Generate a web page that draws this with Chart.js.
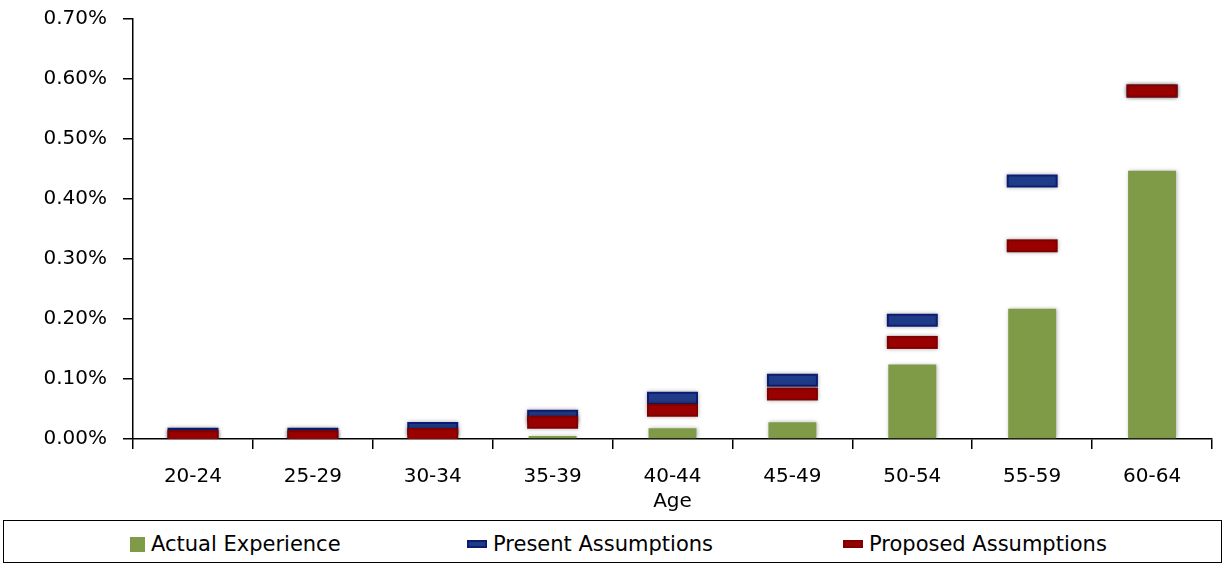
<!DOCTYPE html>
<html>
<head>
<meta charset="utf-8">
<script src="https://cdn.jsdelivr.net/npm/chart.js@4/dist/chart.umd.min.js"></script>
<style>
  body { margin: 0; background: #fff; font-family: "DejaVu Sans", sans-serif; }
  #wrap { position: relative; width: 1225px; height: 515px; }
  #legend {
    position: absolute; left: 3px; top: 520px; width: 1217px; height: 41px;
    border: 1.5px solid #000; box-sizing: content-box;
  }
  .item { position: absolute; top: 3px; height: 40px; display: flex; align-items: center;
          font-size: 21px; color: #000; white-space: nowrap; }
  .mark { display: inline-block; margin-right: 6px; }
</style>
</head>
<body>
<div id="wrap"><canvas id="chart" width="1225" height="515"></canvas></div>
<div id="legend"></div>

<script>
// ---------------- DATA ----------------
const ageGroups = ["20-24", "25-29", "30-34", "35-39", "40-44", "45-49", "50-54", "55-59", "60-64"];
const actualExperience = [0, 0, 0, 0.005, 0.018, 0.028, 0.124, 0.217, 0.447];
const presentAssumptions = [0.008, 0.008, 0.0175, 0.038, 0.068, 0.098, 0.198, 0.430, 0.580];
const proposedAssumptions = [0.004, 0.004, 0.0075, 0.028, 0.048, 0.075, 0.161, 0.322, 0.580];
const yTicks = [0, 0.1, 0.2, 0.3, 0.4, 0.5, 0.6, 0.7];

const GREEN = "#809B48";
const BLUE = { edge: "#0B1C72", fill: "#1F3A86" };
const RED = { edge: "#7E0000", fill: "#990000" };

// dash marker drawn to a small canvas, used as point style
function dashMarker(c, w, h, shadow) {
    const pad = shadow ? 5 : 0;
    const cv = document.createElement("canvas");
    cv.width = w + pad * 2;
    cv.height = h + pad * 2;
    const ctx = cv.getContext("2d");
    if (shadow) {
        ctx.shadowColor = "rgba(0,0,0,0.35)";
        ctx.shadowBlur = 4;
    }
    ctx.fillStyle = c.edge;
    ctx.fillRect(pad, pad, w, h);
    ctx.shadowBlur = 0;
    ctx.fillStyle = c.fill;
    ctx.fillRect(pad + 2, pad + 2, w - 4, h - 4);
    return cv;
}

// soft shadow under the green bars
const barShadow = {
    id: "barShadow",
    beforeDatasetDraw(chart, args) {
        if (args.index !== 0) return;
        const ctx = chart.ctx;
        ctx.save();
        ctx.shadowColor = "rgba(0,0,0,0.3)";
        ctx.shadowBlur = 4;
        ctx.shadowOffsetX = 1;
    },
    afterDatasetDraw(chart, args) {
        if (args.index !== 0) return;
        chart.ctx.restore();
    }
};

const FONT = { family: "DejaVu Sans", size: 20 };

new Chart(document.getElementById("chart"), {
    type: "bar",
    data: {
        labels: ageGroups,
        datasets: [
            {
                label: "Actual Experience",
                data: actualExperience,
                backgroundColor: GREEN,
                barPercentage: 0.4,
                categoryPercentage: 1,
                order: 2
            },
            {
                type: "line",
                label: "Present Assumptions",
                data: presentAssumptions,
                showLine: false,
                pointStyle: dashMarker(BLUE, 51, 13, true),
                order: 1
            },
            {
                type: "line",
                label: "Proposed Assumptions",
                data: proposedAssumptions,
                showLine: false,
                pointStyle: dashMarker(RED, 51, 13, true),
                order: 0
            }
        ]
    },
    options: {
        responsive: false,
        animation: false,
        layout: { padding: { top: 0, right: 13, left: 0, bottom: 0 } },
        plugins: {
            legend: { display: false },
            tooltip: { enabled: false }
        },
        scales: {
            x: {
                grid: { drawOnChartArea: false, color: "#000", lineWidth: 1.5, tickLength: 10, offset: true },
                border: { color: "#000", width: 1.5 },
                ticks: { color: "#000", font: FONT, padding: 16 },
                title: { display: true, text: "Age", color: "#000", font: FONT, padding: { top: 0, bottom: 1 } },
                afterFit(scale) { scale.height = 76; }
            },
            y: {
                min: 0,
                max: 0.7,
                afterBuildTicks(scale) { scale.ticks = yTicks.map(v => ({ value: v })); },
                grid: { drawOnChartArea: false, color: "#000", lineWidth: 1.5, tickLength: 10 },
                border: { color: "#000", width: 1.5 },
                ticks: {
                    color: "#000",
                    font: FONT,
                    padding: 16,
                    callback: v => v.toFixed(2) + "%"
                },
                afterFit(scale) {
                    scale.width = 133;
                    scale.paddingTop = 19;
                }
            }
        }
    },
    plugins: [barShadow]
});

// ---------------- LEGEND ----------------
const legendItems = [
    { text: "Actual Experience", x: 126, mark: () => { const c = document.createElement("canvas"); c.width = 15; c.height = 15; const g = c.getContext("2d"); g.fillStyle = GREEN; g.fillRect(0, 0, 15, 15); return c; } },
    { text: "Present Assumptions", x: 463, mark: () => dashMarker(BLUE, 20, 8, false) },
    { text: "Proposed Assumptions", x: 839, mark: () => dashMarker(RED, 20, 8, false) }
];
const legend = document.getElementById("legend");
legendItems.forEach(it => {
    const div = document.createElement("div");
    div.className = "item";
    div.style.left = it.x + "px";
    const m = it.mark();
    m.className = "mark";
    div.appendChild(m);
    div.appendChild(document.createTextNode(it.text));
    legend.appendChild(div);
});
</script>
</body>
</html>
